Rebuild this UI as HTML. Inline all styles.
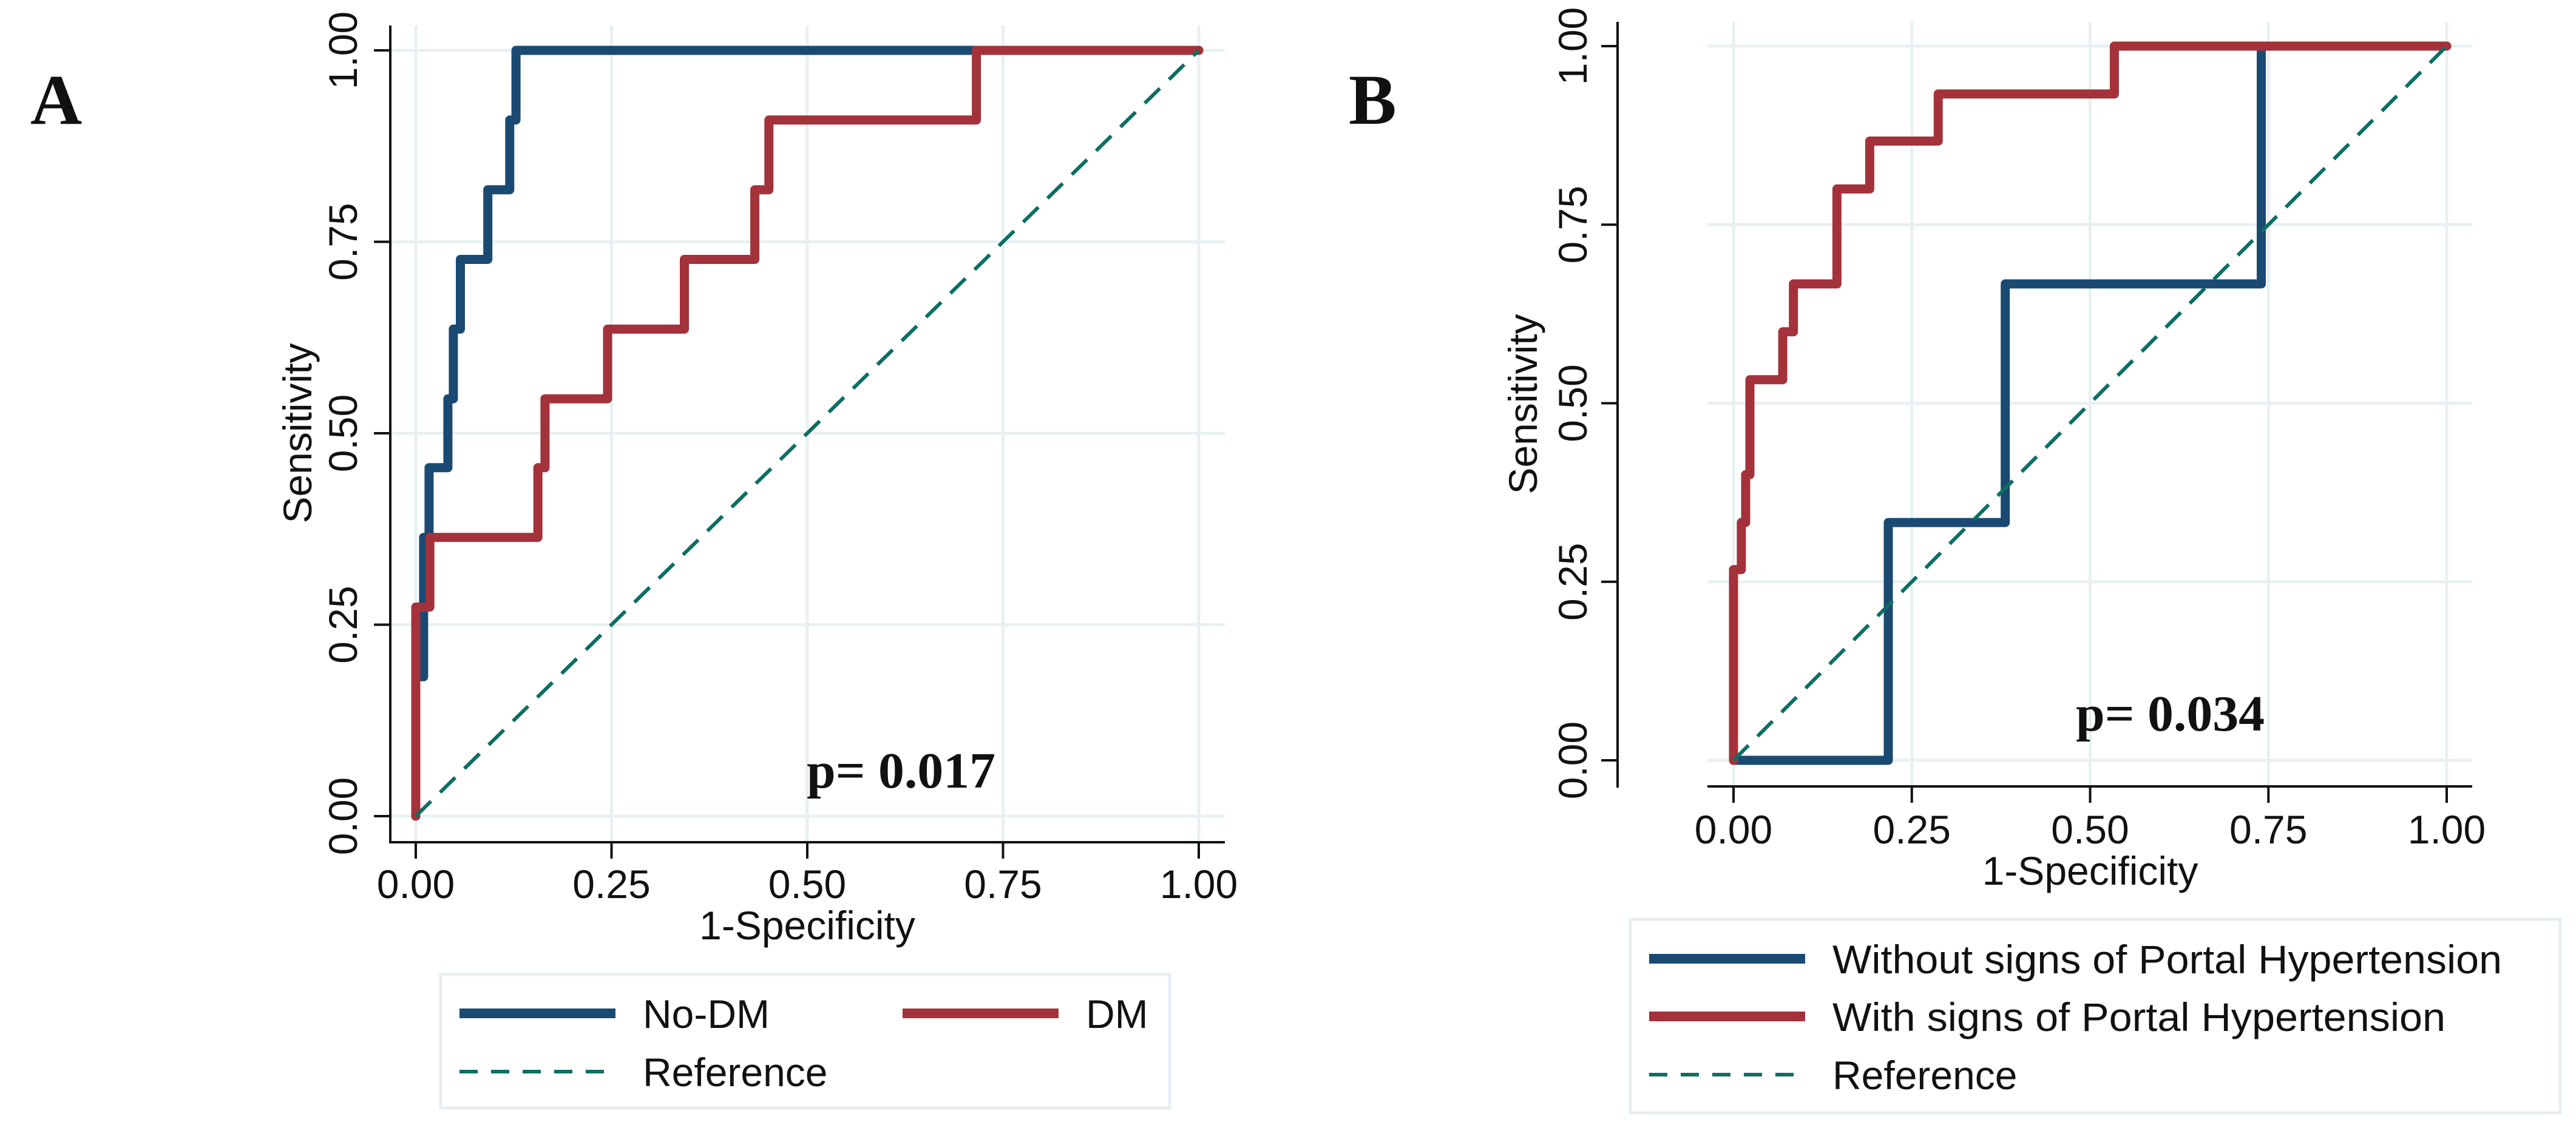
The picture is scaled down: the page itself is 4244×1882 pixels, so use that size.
<!DOCTYPE html>
<html><head><meta charset="utf-8"><style>
html,body{margin:0;padding:0;background:#fff;}
svg{display:block;}
</style></head><body>
<svg id="fig" xmlns="http://www.w3.org/2000/svg" width="4244" height="1882" viewBox="0 0 4244 1882">
<rect width="4244" height="1882" fill="#fff"/>
</svg>
<script>
// Panel A data
const ticks = [0, 0.25, 0.5, 0.75, 1];
const tickLabels = ["0.00", "0.25", "0.50", "0.75", "1.00"];
const aNoDmFpr = [0, 0, 0.010, 0.010, 0.017, 0.017, 0.041, 0.041, 0.048, 0.048, 0.057, 0.057, 0.092, 0.092, 0.12, 0.12, 0.128, 0.128, 1];
const aNoDmTpr = [0, 0.182, 0.182, 0.364, 0.364, 0.455, 0.455, 0.545, 0.545, 0.636, 0.636, 0.727, 0.727, 0.818, 0.818, 0.909, 0.909, 1, 1];
const aDmFpr = [0, 0, 0.018, 0.018, 0.156, 0.156, 0.165, 0.165, 0.245, 0.245, 0.343, 0.343, 0.433, 0.433, 0.451, 0.451, 0.716, 0.716, 1];
const aDmTpr = [0, 0.273, 0.273, 0.364, 0.364, 0.455, 0.455, 0.545, 0.545, 0.636, 0.636, 0.727, 0.727, 0.818, 0.818, 0.909, 0.909, 1, 1];
// Panel B data
const bWithoutFpr = [0, 0.217, 0.217, 0.381, 0.381, 0.740, 0.740, 1];
const bWithoutTpr = [0, 0, 0.333, 0.333, 0.667, 0.667, 1, 1];
const bWithFpr = [0, 0, 0.011, 0.011, 0.017, 0.017, 0.023, 0.023, 0.069, 0.069, 0.084, 0.084, 0.145, 0.145, 0.191, 0.191, 0.287, 0.287, 0.534, 0.534, 1];
const bWithTpr = [0, 0.267, 0.267, 0.333, 0.333, 0.4, 0.4, 0.533, 0.533, 0.6, 0.6, 0.667, 0.667, 0.8, 0.8, 0.867, 0.867, 0.933, 0.933, 1, 1];

const NS = "http://www.w3.org/2000/svg";
const svg = document.getElementById("fig");
const BLUE = "#1a4a72", RED = "#a4323b", TEAL = "#0d6e62", GRID = "#e8f0f2";
function el(tag, attrs, parent, text) {
  const e = document.createElementNS(NS, tag);
  for (const k in attrs) e.setAttribute(k, attrs[k]);
  if (text !== undefined) e.textContent = text;
  (parent || svg).appendChild(e);
  return e;
}

function panel(cfg) {
  const g = el("g", {});
  
  
  const X = v => cfg.x0 + (cfg.x1 - cfg.x0) * v;
  const Y = v => cfg.y0 - (cfg.y0 - cfg.y1) * v;
  ticks.forEach((t, i) => {
    const gv = el("line", {x1: X(t), x2: X(t), y1: cfg.gridTop, y2: cfg.axisY, stroke: GRID, "stroke-width": 5}, g);
    
    
    const gh = el("line", {x1: cfg.gridLeft, x2: cfg.gridRight, y1: Y(t), y2: Y(t), stroke: GRID, "stroke-width": 5}, g);
    
    
  });
  const ya = el("line", {x1: cfg.axisX, x2: cfg.axisX, y1: cfg.gridTop, y2: cfg.axisY + 2, stroke: "#111", "stroke-width": 4}, g);
  
  
  const xa = el("line", {x1: cfg.xAxisStart, x2: cfg.gridRight, y1: cfg.axisY, y2: cfg.axisY, stroke: "#111", "stroke-width": 4}, g);
  
  
  ticks.forEach((t, i) => {
    const tx = el("line", {x1: X(t), x2: X(t), y1: cfg.axisY, y2: cfg.axisY + 27, stroke: "#111", "stroke-width": 4}, g);
    
    
    const lx = el("text", {x: X(t), y: cfg.xLabelBase, "text-anchor": "middle", "font-family": "Liberation Sans, sans-serif", "font-size": 66, fill: "#111"}, g, tickLabels[i]);
    
    
    const ty = el("line", {x1: cfg.axisX - 27, x2: cfg.axisX, y1: Y(t), y2: Y(t), stroke: "#111", "stroke-width": 4}, g);
    
    
    const ly = el("text", {x: 0, y: 0, transform: `translate(${cfg.yLabelBase},${Y(t)}) rotate(-90)`, "text-anchor": "middle", "font-family": "Liberation Sans, sans-serif", "font-size": 66, fill: "#111"}, g, tickLabels[i]);
    
    
  });
  const xt = el("text", {x: X(0.5), y: cfg.xTitleBase, "text-anchor": "middle", "font-family": "Liberation Sans, sans-serif", "font-size": 66, fill: "#111"}, g, "1-Specificity");
  
  
  const yt = el("text", {x: 0, y: 0, transform: `translate(${cfg.yTitleBase},${cfg.yTitleY}) rotate(-90)`, "text-anchor": "middle", "font-family": "Liberation Sans, sans-serif", "font-size": 66, fill: "#111"}, g, "Sensitivity");
  
  
  cfg.series.forEach(s => {
    const pts = s.fpr.map((f, i) => X(f).toFixed(1) + "," + Y(s.tpr[i]).toFixed(1)).join(" ");
    const pl = el("polyline", {points: pts, fill: "none", stroke: s.color, "stroke-width": 15, "stroke-linejoin": "round", "stroke-linecap": "round"}, g);
    
    
  });
  const ref = el("line", {x1: X(0), y1: Y(0), x2: X(1), y2: Y(1), stroke: TEAL, "stroke-width": 6, "stroke-dasharray": "35 21"}, g);
  
  
  const pv = el("text", {x: cfg.pX, y: cfg.pY, "font-family": "Liberation Serif, serif", "font-weight": "bold", "font-size": 84, fill: "#111", textLength: cfg.pLen, lengthAdjust: "spacingAndGlyphs"}, g, cfg.pText);
  
  
  const pl2 = el("text", {x: cfg.letterX, y: 204, "font-family": "Liberation Serif, serif", "font-weight": "bold", "font-size": 118, fill: "#111"}, g, cfg.letter);
  
  
  const lg = el("g", {}, g);
  
  
  const b = cfg.legend.box;
  el("rect", {x: b[0], y: b[1], width: b[2] - b[0], height: b[3] - b[1], fill: "#fff", stroke: "#e6eef1", "stroke-width": 5}, lg);
  cfg.legend.entries.forEach(en => {
    const eg = el("g", {}, lg);
    
    
    el("line", {x1: en.lx, x2: en.lx + 257, y1: en.y, y2: en.y, stroke: en.color, "stroke-width": en.dash ? 6 : 16, "stroke-dasharray": en.dash ? "30 22" : "none"}, eg);
    const attrs = {x: en.lx + 302, y: en.y + 24, "font-family": "Liberation Sans, sans-serif", "font-size": 66, fill: "#111"};
    if (en.len) { attrs.textLength = en.len; attrs.lengthAdjust = "spacingAndGlyphs"; }
    el("text", attrs, eg, en.text);
  });
}

panel({
  name: "panel-a", letter: "A", letterX: 50,
  x0: 685, x1: 1975, y0: 1345, y1: 83,
  gridTop: 42, gridLeft: 643, gridRight: 2018, axisX: 643, axisY: 1388, xAxisStart: 641,
  xLabelBase: 1480, yLabelBase: 588, xTitleBase: 1548, yTitleBase: 513, yTitleY: 714,
  series: [
    {name: "no-dm-curve", fpr: aNoDmFpr, tpr: aNoDmTpr, color: BLUE},
    {name: "dm-curve", fpr: aDmFpr, tpr: aDmTpr, color: RED}
  ],
  pText: "p= 0.017", pX: 1329, pY: 1298, pLen: 311,
  legend: {box: [726, 1606, 1927, 1826], entries: [
    {lx: 757, y: 1670, color: BLUE, text: "No-DM"},
    {lx: 1487, y: 1670, color: RED, text: "DM"},
    {lx: 757, y: 1766, color: TEAL, text: "Reference", dash: true}
  ]}
});

panel({
  name: "panel-b", letter: "B", letterX: 2222,
  x0: 2856, x1: 4031, y0: 1253, y1: 76,
  gridTop: 36, gridLeft: 2813, gridRight: 4073, axisX: 2665, axisY: 1296, xAxisStart: 2813,
  xLabelBase: 1390, yLabelBase: 2614, xTitleBase: 1458, yTitleBase: 2532, yTitleY: 666,
  series: [
    {name: "without-signs-curve", fpr: bWithoutFpr, tpr: bWithoutTpr, color: BLUE},
    {name: "with-signs-curve", fpr: bWithFpr, tpr: bWithTpr, color: RED}
  ],
  pText: "p= 0.034", pX: 3420, pY: 1204, pLen: 311,
  legend: {box: [2686, 1515, 4218, 1834], entries: [
    {lx: 2717, y: 1580, color: BLUE, text: "Without signs of Portal Hypertension", len: 1103},
    {lx: 2717, y: 1675, color: RED, text: "With signs of Portal Hypertension", len: 1010},
    {lx: 2717, y: 1771, color: TEAL, text: "Reference", dash: true}
  ]}
});
</script>
</body></html>
